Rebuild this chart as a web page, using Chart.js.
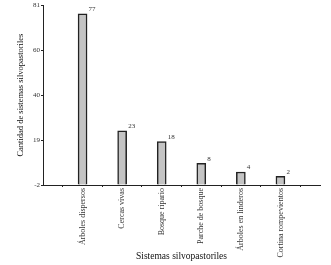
<!DOCTYPE html>
<html>
<head>
<meta charset="utf-8">
<script src="https://cdn.jsdelivr.net/npm/chart.js@4.4.1/dist/chart.umd.min.js"></script>
<style>
    html, body { margin: 0; padding: 0; background: #fff; }
    #wrap { width: 331px; height: 265px; position: relative; }
</style>
</head>
<body>
<div id="wrap"><canvas id="c"></canvas></div>
<script>
// Sistemas silvopastoriles — bar chart with value labels above each bar
const categories = [
    'Árboles dispersos',
    'Cercas vivas',
    'Bosque ripario',
    'Parche de bosque',
    'Árboles en linderos',
    'Cortina rompevientos'
];
const counts = [77, 23, 18, 8, 4, 2];
const yTicks = [-2, 18.75, 39.5, 60.25, 81];

// empty slots at both ends so the bars sit at positions 1..6 of 0..7
const labels = [''].concat(categories, ['']);
const values = [null].concat(counts, [null]);

const SERIF = '"Liberation Serif", "DejaVu Serif", serif';

const valueLabels = {
    id: 'valueLabels',
    afterDatasetsDraw(chart) {
        const ctx = chart.ctx;
        const meta = chart.getDatasetMeta(0);
        ctx.save();
        ctx.font = '7px ' + SERIF;
        ctx.fillStyle = '#333';
        ctx.textAlign = 'left';
        ctx.textBaseline = 'bottom';
        meta.data.forEach((bar, i) => {
            if (values[i] === null) return;
            ctx.fillText(String(values[i]), bar.x + 6, bar.y - 1);
        });
        ctx.restore();
    }
};

new Chart(document.getElementById('c').getContext('2d'), {
    type: 'bar',
    data: {
        labels: labels,
        datasets: [{
            data: values,
            base: -2,
            backgroundColor: '#c4c4c4',
            borderColor: '#222',
            borderWidth: 1.5,
            barThickness: 9,
            borderSkipped: 'bottom'
        }]
    },
    plugins: [valueLabels],
    options: {
        responsive: true,
        maintainAspectRatio: false,
        animation: false,
        layout: { padding: { left: 16, top: 4, right: 11, bottom: 3 } },
        plugins: {
            legend: { display: false },
            tooltip: { enabled: false }
        },
        scales: {
            x: {
                offset: false,
                grid: {
                    drawOnChartArea: false,
                    tickLength: 2,
                    color: '#222'
                },
                border: { color: '#222', width: 1 },
                ticks: {
                    autoSkip: false,
                    maxRotation: 90,
                    minRotation: 90,
                    padding: 1,
                    color: '#333',
                    font: { family: SERIF, size: 8 }
                },
                title: {
                    display: true,
                    text: 'Sistemas silvopastoriles',
                    color: '#111',
                    padding: { top: 4, bottom: 0 },
                    font: { family: SERIF, size: 9.5 }
                },
                afterFit(scale) { scale.height = 77; }
            },
            y: {
                min: -2,
                max: 81,
                afterBuildTicks(scale) {
                    scale.ticks = yTicks.map(v => ({ value: v }));
                },
                grid: {
                    drawOnChartArea: false,
                    tickLength: 2,
                    color: '#222'
                },
                border: { color: '#222', width: 1 },
                ticks: {
                    padding: 1,
                    color: '#333',
                    font: { family: SERIF, size: 7 },
                    callback: v => Math.round(v)
                },
                title: {
                    display: true,
                    text: 'Cantidad de sistemas silvopastoriles',
                    color: '#111',
                    padding: { top: 0, bottom: 4 },
                    font: { family: SERIF, size: 8.5 }
                },
                afterFit(scale) { scale.width = 27; }
            }
        }
    }
});
</script>
</body>
</html>
